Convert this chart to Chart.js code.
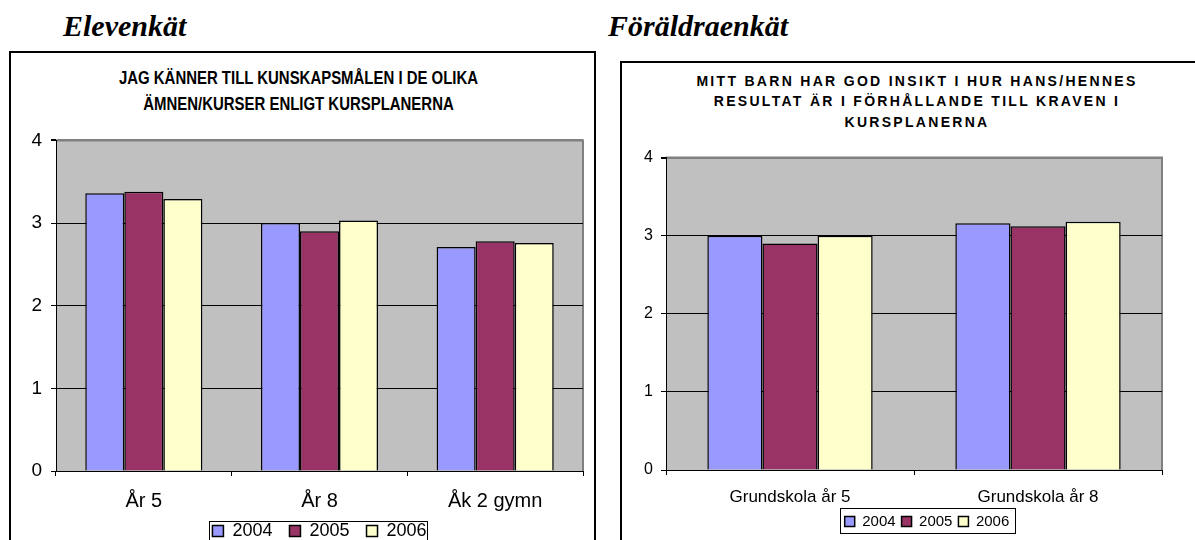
<!DOCTYPE html>
<html>
<head>
<meta charset="utf-8">
<script src="https://cdn.jsdelivr.net/npm/chart.js@4.4.0/dist/chart.umd.min.js"></script>
<style>
  body { margin: 0; width: 1195px; height: 540px; overflow: hidden; position: relative; background: #fff; }
  .heading { position: absolute; font-family: 'Liberation Serif', 'Times New Roman', serif; font-weight: bold; font-style: italic; font-size: 30px; line-height: 30px; white-space: nowrap; }
  .box { position: absolute; border: 2px solid #000; box-sizing: border-box; }
  .title { position: absolute; text-align: center; font-family: Arial, 'Liberation Sans', sans-serif; font-weight: bold; color: #000; white-space: nowrap; }
  canvas { position: absolute; }
</style>
</head>
<body>
<div class="heading" style="left:63px; top:11px;">Elevenkät</div>
<div class="heading" style="left:608px; top:11px;">Föräldraenkät</div>

<div class="box" style="left:9px; top:51px; width:587px; height:520px;"></div>
<div class="box" style="left:620px; top:61px; width:620px; height:520px;"></div>

<div class="title" style="left:5px; top:65px; width:587px; font-size:18px; line-height:26px; transform:scaleX(0.83);">
  JAG KÄNNER TILL KUNSKAPSMÅLEN I DE OLIKA<br>ÄMNEN/KURSER ENLIGT KURSPLANERNA
</div>
<div class="title" style="left:622px; top:71px; width:590px; font-size:14px; line-height:20.4px; letter-spacing:2.3px;">
  MITT BARN HAR GOD INSIKT I HUR HANS/HENNES<br>RESULTAT ÄR I FÖRHÅLLANDE TILL KRAVEN I<br>KURSPLANERNA
</div>

<canvas id="elevChart" width="583" height="446" style="left:11px; top:120px;"></canvas>
<canvas id="foraldChart" width="572" height="420" style="left:623px; top:140px;"></canvas>

<script>
// Elevenkät
const elevCategories = ['År 5', 'År 8', 'Åk 2 gymn'];
const elev2004 = [3.36, 3.00, 2.71];
const elev2005 = [3.38, 2.90, 2.78];
const elev2006 = [3.29, 3.03, 2.76];

// Föräldraenkät
const foraldCategories = ['Grundskola år 5', 'Grundskola år 8'];
const forald2004 = [3.00, 3.16];
const forald2005 = [2.90, 3.12];
const forald2006 = [3.00, 3.18];

const years = ['2004', '2005', '2006'];
const yearColors = ['#9999FF', '#993366', '#FFFFCC'];
const yTicks = [0, 1, 2, 3, 4];

const FONT = "Arial, 'Liberation Sans', sans-serif";

// gray plot area with excel-like frame, legend moved into place and boxed
const plotFrame = {
    id: 'plotFrame',
    afterUpdate(chart, args, opts) {
        const legend = chart.legend;
        if (!legend) return;
        const dx = opts.legendShift || 0;
        const dy = opts.legendShiftY || 0;
        legend.left += dx;
        legend.right += dx;
        legend.top += dy;
        legend.bottom += dy;
        legend.legendHitBoxes.forEach(h => { h.left += dx; h.top += dy; });
    },
    beforeDraw(chart) {
        const { ctx, chartArea: a } = chart;
        ctx.save();
        ctx.fillStyle = '#C0C0C0';
        ctx.fillRect(a.left, a.top, a.right - a.left, a.bottom - a.top);
        ctx.strokeStyle = '#808080';
        ctx.lineWidth = 2;
        ctx.beginPath();
        ctx.moveTo(a.left, a.top);
        ctx.lineTo(a.right, a.top);
        ctx.lineTo(a.right, a.bottom);
        ctx.stroke();
        ctx.restore();
    },
    afterDraw(chart, args, opts) {
        const boxes = chart.legend.legendHitBoxes;
        if (!boxes || !boxes.length) return;
        const pad = opts.legendPad;
        const left = Math.min(...boxes.map(b => b.left)) - pad[0];
        const right = Math.max(...boxes.map(b => b.left + b.width)) + pad[2];
        const top = boxes[0].top - pad[1];
        const bottom = boxes[0].top + boxes[0].height + pad[3];
        const ctx = chart.ctx;
        ctx.save();
        ctx.strokeStyle = '#000';
        ctx.lineWidth = 1;
        ctx.strokeRect(Math.round(left) + 0.5, Math.round(top) + 0.5, Math.round(right - left), Math.round(bottom - top));
        ctx.restore();
    }
};

function makeDatasets(series) {
    return series.map((values, i) => ({
        label: years[i],
        data: values,
        backgroundColor: yearColors[i],
        borderColor: '#000',
        borderWidth: 1.5,
        borderSkipped: 'bottom',
        categoryPercentage: 2 / 3,
        barPercentage: 1
    }));
}

function renderChart(canvasId, categories, series, cfg) {
    return new Chart(document.getElementById(canvasId), {
        type: 'bar',
        data: { labels: categories, datasets: makeDatasets(series) },
        options: {
            responsive: false,
            animation: false,
            layout: { padding: cfg.padding },
            plugins: {
                title: { display: false },
                tooltip: { enabled: false },
                legend: {
                    display: true,
                    position: 'bottom',
                    fullSize: false,
                    labels: {
                        color: '#000',
                        font: { size: cfg.legendFont, family: FONT },
                        boxWidth: cfg.legendBox,
                        boxHeight: cfg.legendBox,
                        padding: cfg.legendPadding
                    }
                },
                plotFrame: { legendShift: cfg.legendShift, legendShiftY: cfg.legendShiftY, legendPad: cfg.legendPad }
            },
            scales: {
                x: {
                    offset: true,
                    grid: { offset: true, drawOnChartArea: false, drawTicks: true, tickLength: 5, color: '#000' },
                    border: { color: '#000', width: 1 },
                    ticks: { color: '#000', padding: cfg.xPadding, font: { size: cfg.xFont, family: FONT }, maxRotation: 0 },
                    afterFit: scale => { scale.height = cfg.xHeight; }
                },
                y: {
                    min: 0,
                    max: 4,
                    afterBuildTicks: scale => { scale.ticks = yTicks.map(v => ({ value: v })); },
                    grid: {
                        color: c => (c.tick && c.tick.value === 4 ? '#808080' : '#000'),
                        lineWidth: c => (c.tick && c.tick.value === 4 ? 2 : 1),
                        tickColor: '#000',
                        tickLength: 5
                    },
                    border: { color: '#000', width: 1 },
                    ticks: { color: '#000', padding: cfg.yPadding, font: { size: cfg.yFont, family: FONT } },
                    afterFit: scale => { scale.width = cfg.yWidth; }
                }
            }
        },
        plugins: [plotFrame]
    });
}

renderChart('elevChart', elevCategories, [elev2004, elev2005, elev2006], {
    padding: { top: 17, right: 11, bottom: 0, left: 0 },
    yWidth: 45, xHeight: 50,
    xFont: 20, yFont: 19, xPadding: 13, yPadding: 9,
    legendFont: 18, legendBox: 11, legendPadding: 17,
    legendShift: 0, legendShiftY: -16, legendPad: [3, 1, 1, 4]
});

renderChart('foraldChart', foraldCategories, [forald2004, forald2005, forald2006], {
    padding: { top: 16, right: 33, bottom: 17, left: 0 },
    yWidth: 43, xHeight: 42,
    xFont: 17, yFont: 16, xPadding: 12, yPadding: 8,
    legendFont: 15, legendBox: 10, legendPadding: 6,
    legendShift: 13, legendShiftY: -4, legendPad: [5, 6, 5, 4]
});
</script>
</body>
</html>
